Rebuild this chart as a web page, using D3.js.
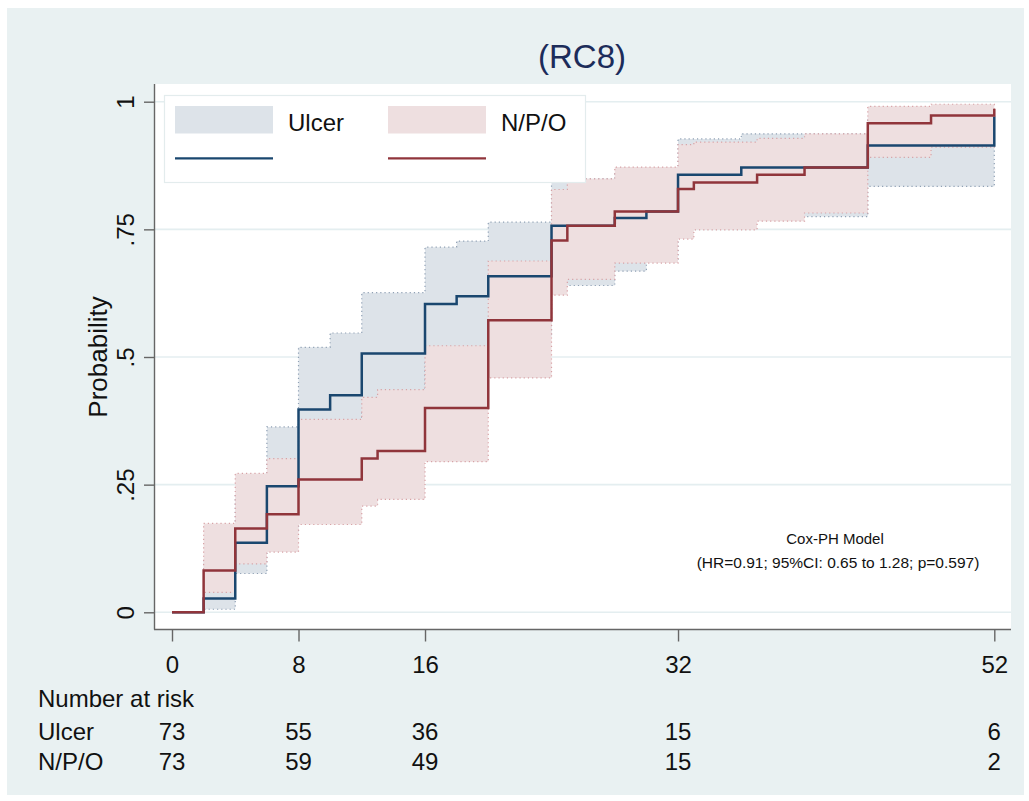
<!DOCTYPE html>
<html>
<head>
<meta charset="utf-8">
<script src="https://cdn.jsdelivr.net/npm/d3@7"></script>
<style>
  body { margin: 0; background: #ffffff; }
  svg text { font-family: "Liberation Sans", Arial, sans-serif; fill: #111; }
</style>
</head>
<body>
<div id="chart"></div>
<script>
// Kaplan-Meier style cumulative probability
const ulcerTimes = [0, 2, 4, 6, 8, 10, 12, 16, 18, 20, 24, 28, 30, 32, 36, 44, 52];
const ulcerProb  = [0, 0.027, 0.136, 0.247, 0.397, 0.425, 0.507, 0.604, 0.619, 0.658, 0.757, 0.772, 0.785, 0.857, 0.871, 0.914, 0.971];

const ulcerCiTimes = [2, 4, 6, 8, 10, 12, 16, 18, 20, 24, 28, 30, 32, 36, 44, 52];
const ulcerLower   = [0.006, 0.076, 0.16, 0.29, 0.31, 0.39, 0.49, 0.50, 0.54, 0.64, 0.668, 0.69, 0.76, 0.775, 0.834, 0.834];
const ulcerUpper   = [0.10, 0.23, 0.363, 0.519, 0.547, 0.626, 0.715, 0.727, 0.764, 0.849, 0.86, 0.87, 0.927, 0.937, 0.97, 0.97];

const npoTimes = [0, 2, 4, 6, 8, 12, 13, 16, 20, 24, 25, 28, 32, 33, 37, 40, 44, 48, 52];
const npoProb  = [0, 0.082, 0.164, 0.192, 0.260, 0.301, 0.316, 0.400, 0.572, 0.728, 0.757, 0.785, 0.829, 0.842, 0.857, 0.871, 0.958, 0.973, 0.986];

const npoCiTimes = [2, 4, 6, 8, 12, 13, 16, 20, 24, 25, 28, 32, 33, 37, 40, 44, 48, 52];
const npoLower   = [0.039, 0.095, 0.118, 0.172, 0.208, 0.221, 0.295, 0.459, 0.621, 0.652, 0.684, 0.731, 0.749, 0.766, 0.782, 0.891, 0.911, 0.911];
const npoUpper   = [0.174, 0.272, 0.301, 0.378, 0.421, 0.436, 0.522, 0.688, 0.828, 0.849, 0.872, 0.916, 0.921, 0.928, 0.937, 0.991, 0.995, 0.995];

const riskTimes = [0, 8, 16, 32, 52];
const riskUlcer = [73, 55, 36, 15, 6];
const riskNpo   = [73, 59, 49, 15, 2];

const yTicks = [0, 0.25, 0.5, 0.75, 1];
const yTickLabels = ["0", ".25", ".5", ".75", "1"];

const groups = ["Ulcer", "N/P/O"];

const width = 1029, height = 801;
const navy = "#1a476f", maroon = "#90353b";
const navyBand = "#dde3e9", maroonBand = "#eedfe0";

let svg = d3.select("#chart").append("svg")
  .attr("width", width)
  .attr("height", height);

// graph region
svg.append("rect")
  .attr("x", 7).attr("y", 8)
  .attr("width", 1017).attr("height", 787)
  .attr("fill", "#e9f1f2");

// plot region
const plot = { left: 155, right: 1011, top: 84, bottom: 629.5 };
svg.append("rect")
  .attr("x", plot.left).attr("y", plot.top)
  .attr("width", plot.right - plot.left).attr("height", plot.bottom - plot.top)
  .attr("fill", "#ffffff");

let x = d3.scaleLinear().domain([0, 52]).range([172, 994.3]);
let y = d3.scaleLinear().domain([0, 1]).range([612.3, 101.7]);

// gridlines
svg.append("g").selectAll("line").data(yTicks).enter()
  .append("line")
  .attr("x1", plot.left).attr("x2", plot.right)
  .attr("y1", (d) => y(d)).attr("y2", (d) => y(d))
  .attr("stroke", "#e4eef0")
  .attr("stroke-width", 1.6);

// confidence bands
function band(times, lower, upper, fill, edge) {
  let rows = times.map((t, i) => ({ t: t, lo: lower[i], hi: upper[i] }));
  let area = d3.area()
    .curve(d3.curveStepAfter)
    .x((d) => x(d.t))
    .y0((d) => y(d.lo))
    .y1((d) => y(d.hi));
  svg.append("path")
    .datum(rows)
    .attr("d", (d) => area(d) + "Z")
    .attr("fill", fill)
    .attr("stroke", edge)
    .attr("stroke-width", 1.2)
    .attr("stroke-dasharray", "1.2,3");
}

band(ulcerCiTimes, ulcerLower, ulcerUpper, navyBand, "#8fa0b4");
band(npoCiTimes, npoLower, npoUpper, maroonBand, "#d7a2a6");

// step lines
function steps(times, probs, color) {
  let rows = times.map((t, i) => ({ t: t, p: probs[i] }));
  let line = d3.line()
    .curve(d3.curveStepAfter)
    .x((d) => x(d.t))
    .y((d) => y(d.p));
  svg.append("path")
    .datum(rows)
    .attr("d", line)
    .attr("fill", "none")
    .attr("stroke", color)
    .attr("stroke-width", 2.5);
}

steps(ulcerTimes, ulcerProb, navy);
steps(npoTimes, npoProb, maroon);

// axes
let yAxis = svg.append("g")
  .attr("transform", "translate(" + plot.left + ",0)")
  .call(d3.axisLeft(y).tickValues(yTicks).tickSize(11).tickFormat((d, i) => yTickLabels[i]));
yAxis.select(".domain").remove();
yAxis.selectAll(".tick line").attr("stroke", "#666").attr("stroke-width", 1.4);
yAxis.selectAll(".tick text")
  .attr("x", null).attr("dy", null)
  .attr("text-anchor", "middle")
  .attr("transform", "translate(-21,0) rotate(-90)")
  .style("font-size", "24px")
  .style("fill", "#111");

let xAxis = svg.append("g")
  .attr("transform", "translate(0," + plot.bottom + ")")
  .call(d3.axisBottom(x).tickValues(riskTimes).tickSize(12));
xAxis.select(".domain").remove();
xAxis.selectAll(".tick line").attr("stroke", "#666").attr("stroke-width", 1.4);
xAxis.selectAll(".tick text")
  .attr("y", 43).attr("dy", null)
  .style("font-size", "24px")
  .style("fill", "#111");

svg.append("line")
  .attr("x1", plot.left - 0.5).attr("x2", plot.left - 0.5)
  .attr("y1", plot.top).attr("y2", plot.bottom)
  .attr("stroke", "#666").attr("stroke-width", 1.4);
svg.append("line")
  .attr("x1", plot.left - 1).attr("x2", plot.right)
  .attr("y1", plot.bottom).attr("y2", plot.bottom)
  .attr("stroke", "#666").attr("stroke-width", 1.4);

// axis title
svg.append("text")
  .attr("transform", "translate(107,357) rotate(-90)")
  .attr("text-anchor", "middle")
  .style("font-size", "26px")
  .text("Probability");

// chart title
svg.append("text")
  .attr("x", 582).attr("y", 68)
  .attr("text-anchor", "middle")
  .style("font-size", "33px")
  .style("fill", "#1c2c5a")
  .text("(RC8)");

// legend
let legend = svg.append("g");
legend.append("rect")
  .attr("x", 164.5).attr("y", 95.5)
  .attr("width", 421).attr("height", 87)
  .attr("fill", "#ffffff")
  .attr("stroke", "#e3eced")
  .attr("stroke-width", 1.2);
const legendX = [175, 388];
const legendColors = [[navyBand, navy], [maroonBand, maroon]];
groups.forEach((g, i) => {
  legend.append("rect")
    .attr("x", legendX[i]).attr("y", 106)
    .attr("width", 98).attr("height", 27.5)
    .attr("fill", legendColors[i][0]);
  legend.append("line")
    .attr("x1", legendX[i]).attr("x2", legendX[i] + 98)
    .attr("y1", 158.3).attr("y2", 158.3)
    .attr("stroke", legendColors[i][1])
    .attr("stroke-width", 2.2);
  legend.append("text")
    .attr("x", legendX[i] + 113).attr("y", 130.7)
    .style("font-size", "24px")
    .text(g);
});

// model annotation
svg.append("text")
  .attr("x", 835).attr("y", 543.5)
  .attr("text-anchor", "middle")
  .style("font-size", "15px")
  .text("Cox-PH Model");
svg.append("text")
  .attr("x", 838).attr("y", 567.5)
  .attr("text-anchor", "middle")
  .style("font-size", "15.5px")
  .text("(HR=0.91; 95%CI: 0.65 to 1.28; p=0.597)");

// number at risk table
svg.append("text")
  .attr("x", 38).attr("y", 706.5)
  .style("font-size", "24px")
  .text("Number at risk");

const riskRows = [riskUlcer, riskNpo];
const riskRowY = [739.5, 770];
groups.forEach((g, i) => {
  svg.append("text")
    .attr("x", 38).attr("y", riskRowY[i])
    .style("font-size", "24px")
    .text(g);
  svg.append("g").selectAll("text").data(riskRows[i]).enter()
    .append("text")
    .attr("x", (d, j) => x(riskTimes[j]))
    .attr("y", riskRowY[i])
    .attr("text-anchor", "middle")
    .style("font-size", "24px")
    .text((d) => d);
});
</script>
</body>
</html>
